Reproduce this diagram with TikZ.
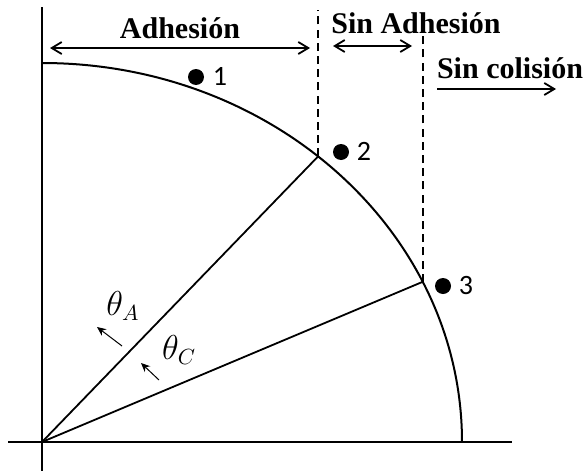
\documentclass[tikz,border=0pt]{standalone}
\usepackage{fontspec}
\setmainfont{Liberation Serif}
\newfontfamily\ptfont{Carlito}
\usetikzlibrary{arrows.meta, calc}
\tikzset{
    axis/.style={line width=1.2pt, draw=black},
    curve/.style={line width=1pt, draw=black},
    ray/.style={line width=0.9pt, draw=black},
    bound/.style={line width=0.9pt, draw=black, dash pattern=on 4pt off 2.6pt},
    span arrow/.style={line width=0.9pt, {Straight Barb[length=5pt, width=6pt]}-{Straight Barb[length=5pt, width=6pt]}},
    out arrow/.style={line width=0.9pt, -{Straight Barb[length=5pt, width=6pt]}},
    angle arrow/.style={line width=0.5pt, -{Stealth[length=4.5pt, width=4pt]}},
    region label/.style={font=\fontsize{15}{17}\selectfont\bfseries, anchor=base, inner sep=0pt},
    point label/.style={font=\fontsize{14}{16}\selectfont\ptfont, inner sep=0pt},
    angle label/.style={font=\fontsize{16}{18}\selectfont, inner sep=0pt},
    dot/.style={circle, fill=black, inner sep=0pt, minimum size=8pt},
}

\begin{document}
\begin{tikzpicture}[x=0.5pt, y=0.5pt]

\useasboundingbox (0, 0) rectangle (584, 473);

% ===== AXES AND ARC =====
\coordinate (O) at (42, 31);
\coordinate (ytop) at (42, 466);
\coordinate (ybot) at (42, 2);
\coordinate (xleft) at (8, 31);
\coordinate (xright) at (512, 31);
\draw[axis] (ytop) -- (ybot);
\draw[axis] (xleft) -- (xright);
\draw[curve] (42, 410) arc[start angle=90, end angle=0, x radius=420, y radius=379];

\coordinate (P2) at ($(O) + (48.9:420 and 379)$);
\coordinate (P3) at ($(O) + (25.0:420 and 379)$);
\draw[ray] (O) -- (P2);
\draw[ray] (O) -- (P3);

% ===== BOUNDARIES =====
\coordinate (B2top) at ($(P2) + (0, 146)$);
\coordinate (B3top) at ($(P3) + (0, 247)$);
\draw[bound] (P2) -- (B2top);
\draw[bound] (P3) -- (B3top);

% ===== REGIONS =====
\coordinate (adhL) at (50, 425);
\coordinate (adhR) at (310, 425);
\coordinate (sadhL) at (333, 427);
\coordinate (sadhR) at (412, 427);
\coordinate (scolL) at (437, 384);
\coordinate (scolR) at (556, 384);
\draw[span arrow] (adhL) -- (adhR);
\draw[span arrow] (sadhL) -- (sadhR);
\draw[out arrow] (scolL) -- (scolR);
\node[region label] (adh) at (180, 435) {Adhesión};
\node[region label] (sadh) at (416, 440) {Sin Adhesión};
\node[region label] (scol) at (510, 395) {Sin colisión};

% ===== POINTS =====
\node[dot] (d1) at (196, 396) {};
\node[dot] (d2) at (341, 321) {};
\node[dot] (d3) at (443, 187) {};
\node[point label] (n1) at (220, 397) {1};
\node[point label] (n2) at (364, 322) {2};
\node[point label] (n3) at (466, 187) {3};

% ===== ANGLES =====
\node[angle label] (thA) at (123, 167) {$\theta_A$};
\node[angle label] (thC) at (179, 123) {$\theta_C$};
\coordinate (aA1) at (122, 127);
\coordinate (aA2) at (97, 146);
\coordinate (aC1) at (159, 93);
\coordinate (aC2) at (141, 110);
\draw[angle arrow] (aA1) -- (aA2);
\draw[angle arrow] (aC1) -- (aC2);

\end{tikzpicture}
\end{document}
